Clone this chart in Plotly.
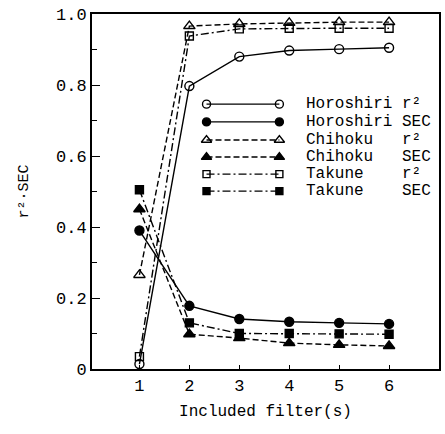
import plotly.graph_objects as go

# Number of filters included in the model
filters = [1, 2, 3, 4, 5, 6]

# Coefficient of determination (r^2) per site
horoshiri_r2 = [0.014, 0.797, 0.880, 0.897, 0.901, 0.905]
chihoku_r2 = [0.265, 0.966, 0.972, 0.975, 0.977, 0.977]
takune_r2 = [0.035, 0.938, 0.958, 0.960, 0.960, 0.960]

# Standard error of calibration (SEC) per site
horoshiri_sec = [0.390, 0.178, 0.141, 0.133, 0.130, 0.127]
chihoku_sec = [0.450, 0.098, 0.087, 0.073, 0.068, 0.065]
takune_sec = [0.505, 0.130, 0.100, 0.100, 0.099, 0.098]

y_tick_values = [0, 0.2, 0.4, 0.6, 0.8, 1.0]
y_tick_labels = ["0", "0.2", "0.4", "0.6", "0.8", "1.0"]
x_tick_labels = ["1", "2", "3", "4", "5", "6"]

series_names = ["Horoshiri", "Horoshiri", "Chihoku", "Chihoku", "Takune", "Takune"]
series_stats = ["r²", "SEC", "r²", "SEC", "r²", "SEC"]

FONT = "Liberation Mono"
INK = "black"

styles = [
    dict(dash="solid", symbol="circle-open", size=9),
    dict(dash="solid", symbol="circle", size=9),
    dict(dash="6px,3px", symbol="triangle-up-open", size=10),
    dict(dash="6px,3px", symbol="triangle-up", size=10),
    dict(dash="8px,3px,2px,3px", symbol="square-open", size=8),
    dict(dash="8px,3px,2px,3px", symbol="square", size=8),
]
series_values = [horoshiri_r2, horoshiri_sec, chihoku_r2, chihoku_sec, takune_r2, takune_sec]

fig = go.Figure()

for vals, st in zip(series_values, styles):
    fig.add_trace(go.Scatter(
        x=filters, y=vals, mode="lines+markers",
        line=dict(color=INK, width=1.4, dash=st["dash"]),
        marker=dict(symbol=st["symbol"], size=st["size"], color=INK,
                    line=dict(color=INK, width=1.4)),
        cliponaxis=False, showlegend=False,
    ))

# Hand-drawn key: a short line with a marker at each end, on an overlay axis in [0, 1]
key_x0, key_x1, key_text_x = 0.33, 0.54, 0.61
key_rows = [0.746, 0.696, 0.645, 0.597, 0.549, 0.501]
for row_y, st, name, stat in zip(key_rows, styles, series_names, series_stats):
    fig.add_trace(go.Scatter(
        x=[key_x0, key_x1], y=[row_y, row_y], mode="lines+markers",
        xaxis="x2", yaxis="y2",
        line=dict(color=INK, width=1.4, dash=st["dash"]),
        marker=dict(symbol=st["symbol"], size=st["size"] - 1, color=INK,
                    line=dict(color=INK, width=1.4)),
        cliponaxis=False, showlegend=False,
    ))
    pad = "\u00a0" * (10 - len(name))
    fig.add_annotation(
        x=key_text_x, y=row_y, xref="paper", yref="paper",
        text=name + pad + stat, showarrow=False,
        xanchor="left", yanchor="middle",
        font=dict(family=FONT, size=16, color=INK),
    )

fig.update_layout(
    width=445, height=434,
    margin=dict(l=92, r=4, t=14, b=65),
    paper_bgcolor="white", plot_bgcolor="white",
    showlegend=False,
    font=dict(family=FONT, color=INK, size=15),
    xaxis=dict(
        range=[0.05, 7.0], tickmode="array", tickvals=filters, ticktext=x_tick_labels,
        ticks="inside", ticklen=4, tickwidth=1.2, tickcolor=INK,
        showline=True, linecolor=INK, linewidth=2, mirror=True,
        showgrid=False, zeroline=False,
        tickfont=dict(family=FONT, size=17),
        title=dict(text="Included filter(s)", font=dict(family=FONT, size=16), standoff=9),
    ),
    yaxis=dict(
        range=[0, 1.0], tickmode="array", tickvals=y_tick_values, ticktext=y_tick_labels,
        ticks="inside", ticklen=8, tickwidth=1.2, tickcolor=INK,
        minor=dict(dtick=0.1, ticks="inside", ticklen=5, tickwidth=1.2, tickcolor=INK),
        showline=True, linecolor=INK, linewidth=2, mirror=True,
        showgrid=False, zeroline=False,
        tickfont=dict(family=FONT, size=17),
        title=dict(text="r²·SEC", font=dict(family=FONT, size=15), standoff=24),
    ),
    xaxis2=dict(range=[0, 1], overlaying="x", visible=False, fixedrange=True),
    yaxis2=dict(range=[0, 1], overlaying="y", visible=False, fixedrange=True),
)

fig.write_html("out.html")
